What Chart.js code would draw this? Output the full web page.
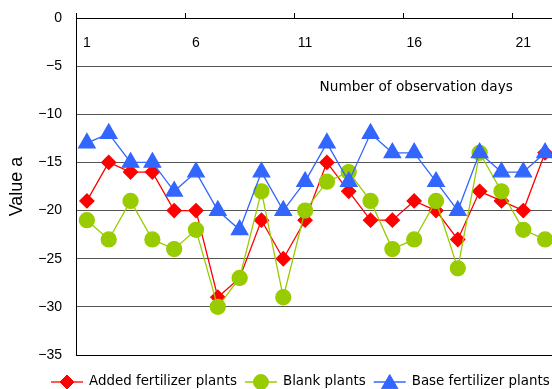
<!DOCTYPE html>
<html>
<head>
<meta charset="utf-8">
<script src="https://cdn.jsdelivr.net/npm/chart.js@4/dist/chart.umd.min.js"></script>
<style>
  html, body { margin: 0; padding: 0; background: #fff; overflow: hidden; }
  #wrap { width: 556px; height: 389px; }
</style>
</head>
<body>
<div id="wrap"><canvas id="myChart" width="556" height="389"></canvas></div>
<script>
var days = ["1","2","3","4","5","6","7","8","9","10","11","12","13","14","15","16","17","18","19","20","21","22"];
var added = [-19,-15,-16,-16,-20,-20,-29,-27,-21,-25,-21,-15,-18,-21,-21,-19,-20,-23,-18,-19,-20,-14];
var blank = [-21,-23,-19,-23,-24,-22,-30,-27,-18,-29,-20,-17,-16,-19,-24,-23,-19,-26,-14,-18,-22,-23];
var base = [-13,-12,-15,-15,-18,-16,-20,-22,-16,-20,-17,-13,-17,-12,-14,-14,-17,-20,-14,-16,-16,-14];
var yTicks = [0,-5,-10,-15,-20,-25,-30,-35];

var gothic = "'DejaVu Sans', sans-serif";
var arial = "'Liberation Sans', Arial, sans-serif";

function minus(v) {
  return v < 0 ? "\u2212" + Math.abs(v) : String(v);
}

// legend with line + marker, and the x axis title inside the plot
var extras = {
  id: "extras",
  afterDraw: function (chart) {
    var ctx = chart.ctx;
    var xs = chart.scales.x, ys = chart.scales.y;
    ctx.save();
    ctx.fillStyle = "#000";
    ctx.font = "13.6px " + gothic;
    ctx.textAlign = "center";
    ctx.textBaseline = "middle";
    ctx.fillText("Number of observation days", xs.getPixelForValue(15) + 2, ys.getPixelForValue(-7.2));

    var x = 51, y = 382;
    ctx.font = "13.4px " + gothic;
    ctx.textAlign = "left";
    chart.data.datasets.forEach(function (ds) {
      ctx.strokeStyle = ds.borderColor;
      ctx.lineWidth = 1.3;
      ctx.beginPath();
      ctx.moveTo(x, y);
      ctx.lineTo(x + 32, y);
      ctx.stroke();
      ctx.fillStyle = ds.pointBackgroundColor;
      ctx.strokeStyle = ds.pointBorderColor;
      ctx.lineWidth = 1;
      Chart.helpers.drawPoint(ctx, {
        pointStyle: ds.pointStyle, radius: ds.pointRadius, rotation: 0, borderWidth: 1
      }, x + 16, ds.pointStyle === "triangle" ? y + 2 : y);
      ctx.fillStyle = "#000";
      ctx.fillText(ds.label, x + 38, y);
      x += 38 + ctx.measureText(ds.label).width + 8;
    });
    ctx.restore();
  }
};

var ctx = document.getElementById("myChart").getContext("2d");
var chart = new Chart(ctx, {
  type: "line",
  data: {
    labels: days,
    datasets: [
      {
        label: "Added fertilizer plants",
        data: added,
        borderColor: "#ff0000",
        pointBackgroundColor: "#ff0000",
        pointBorderColor: "#ff0000",
        pointStyle: "rectRot",
        pointRadius: 7,
        borderWidth: 1.3,
        order: 3
      },
      {
        label: "Blank plants",
        data: blank,
        borderColor: "#99cc00",
        pointBackgroundColor: "#99cc00",
        pointBorderColor: "#99cc00",
        pointStyle: "circle",
        pointRadius: 7.5,
        borderWidth: 1.3,
        order: 2
      },
      {
        label: "Base fertilizer plants",
        data: base,
        borderColor: "#3366ff",
        pointBackgroundColor: "#3366ff",
        pointBorderColor: "#3366ff",
        pointStyle: "triangle",
        pointRadius: 9.5,
        borderWidth: 1.3,
        order: 1
      }
    ]
  },
  options: {
    responsive: false,
    animation: false,
    devicePixelRatio: 1,
    layout: { autoPadding: false, padding: { top: 0, right: 0, bottom: 34, left: 0 } },
    plugins: {
      legend: { display: false },
      tooltip: { enabled: false }
    },
    elements: { line: { tension: 0 }, point: { borderWidth: 1 } },
    scales: {
      x: {
        type: "category",
        position: "top",
        offset: true,
        grid: {
          offset: true,
          drawOnChartArea: false,
          drawTicks: true,
          tickLength: 5,
          color: function (c) { return c.index % 5 === 0 ? "#000" : "rgba(0,0,0,0)"; }
        },
        border: { display: true, color: "#000", width: 1 },
        ticks: {
          autoSkip: false,
          maxRotation: 0,
          mirror: true,
          padding: 17,
          color: "#000",
          font: { family: arial, size: 14 },
          callback: function (val, idx) { return idx % 5 === 0 ? this.getLabelForValue(val) : ""; }
        },
        afterFit: function (s) { s.height = 18; s.paddingLeft = 0; s.paddingRight = 0; }
      },
      y: {
        min: -35,
        max: 0,
        afterBuildTicks: function (s) { s.ticks = yTicks.map(function (v) { return { value: v }; }); },
        grid: {
          drawTicks: false,
          color: function (c) { return c.tick && c.tick.value === -35 ? "#000" : "#555"; },
          lineWidth: 1
        },
        border: { display: true, color: "#000", width: 1 },
        ticks: {
          padding: 14,
          color: "#000",
          font: { family: arial, size: 14 },
          callback: function (v) { return minus(v); }
        },
        title: {
          display: true,
          text: "Value a",
          color: "#000",
          font: { family: arial, size: 18 },
          padding: { top: 6, bottom: 0 }
        },
        afterFit: function (s) { s.width = 76; s.paddingTop = 0; s.paddingBottom = 0; }
      }
    }
  },
  plugins: [extras]
});
</script>
</body>
</html>
